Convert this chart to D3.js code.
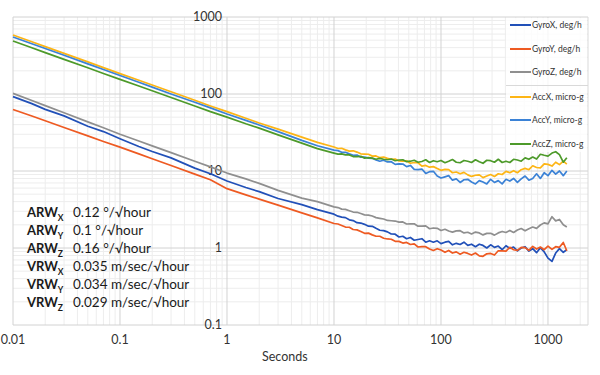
<!DOCTYPE html>
<html>
<head>
<meta charset="utf-8">
<script src="https://cdn.jsdelivr.net/npm/d3@7"></script>
<style>
body { margin: 0; background: #fff; }
text { font-family: Lato, "Open Sans", sans-serif; }
</style>
</head>
<body>
<div id="wrapper"></div>
<script>
/* data */
const seconds = [0.01, 0.015, 0.02, 0.03, 0.05, 0.07, 0.1, 0.15, 0.2, 0.3, 0.5, 0.7, 1, 1.5, 2, 3, 5, 7,
  10, 10.9, 11.8, 12.8, 13.9, 15.1, 16.4, 17.8, 19.3, 21, 22.8, 24.7, 26.8, 29.1, 31.6, 34.3, 37.3, 40.5,
  44, 47.7, 51.8, 56.2, 61, 66.3, 72, 78.2, 84.9, 92.2, 100, 109, 118, 128, 139, 151, 164, 178, 193, 210,
  228, 247, 268, 291, 316, 343, 373, 405, 440, 477, 518, 562, 611, 663, 720, 782, 849, 922, 1000, 1090,
  1180, 1280, 1390, 1500];

const gyroX = [92.5, 75, 63.2, 52, 38.2, 32.5, 26.2, 20.8, 17.9, 14.8, 10.9, 9.2, 7.4, 6.1, 5.4, 4.4, 3.66, 3.15,
  2.75, 2.59, 2.52, 2.48, 2.32, 2.27, 2.13, 2.11, 2.03, 1.92, 1.91, 1.80, 1.70, 1.68, 1.62, 1.52, 1.51, 1.39,
  1.42, 1.32, 1.37, 1.26, 1.29, 1.32, 1.19, 1.24, 1.19, 1.24, 1.14, 1.19, 1.22, 1.10, 1.15, 1.11, 1.19, 1.08, 1.12, 1.04,
  1.12, 1.08, 1.00, 1.10, 1.02, 1.06, 0.95, 1.07, 0.99, 1.03, 0.92, 1.00, 1.04, 0.91, 0.98, 0.87, 1.01, 0.89, 0.74, 0.67,
  0.86, 0.98, 0.88, 0.95];

const gyroY = [63, 51.8, 44.9, 36.8, 28.6, 24.2, 20.4, 16.7, 14.4, 11.8, 9.1, 7.7, 5.9, 4.9, 4.31, 3.6, 2.86, 2.46,
  2.08, 2.05, 1.96, 1.87, 1.86, 1.74, 1.72, 1.64, 1.55, 1.56, 1.48, 1.42, 1.42, 1.34, 1.31, 1.30, 1.22, 1.22,
  1.16, 1.18, 1.11, 1.13, 1.03, 1.04, 1.04, 0.97, 0.93, 0.98, 0.94, 0.88, 0.93, 0.86, 0.89, 0.83, 0.88, 0.85, 0.81, 0.86,
  0.79, 0.78, 0.84, 0.85, 0.81, 0.92, 0.92, 0.91, 1.02, 0.95, 0.93, 1.02, 1.01, 0.93, 1.05, 0.97, 1.03, 0.95, 1.06, 0.96,
  1.04, 1.02, 1.18, 0.92];

const gyroZ = [102, 82.2, 70.7, 57, 43.5, 36.4, 30, 24.5, 21.2, 17.3, 13.4, 11.3, 9.4, 7.9, 6.9, 5.6, 4.45, 4.0,
  3.42, 3.35, 3.20, 3.17, 3.05, 2.93, 2.91, 2.80, 2.69, 2.67, 2.60, 2.48, 2.43, 2.38, 2.28, 2.26, 2.24, 2.17,
  2.18, 2.05, 2.06, 2.06, 1.92, 1.92, 1.94, 1.78, 1.82, 1.80, 1.69, 1.75, 1.66, 1.61, 1.67, 1.68, 1.57, 1.60, 1.52, 1.61,
  1.57, 1.48, 1.55, 1.55, 1.47, 1.57, 1.64, 1.59, 1.69, 1.59, 1.71, 1.79, 1.67, 1.78, 1.87, 1.80, 1.99, 2.12, 2.06, 2.55,
  2.25, 2.35, 2.00, 1.87];

const accX = [583, 476, 412, 337, 261, 220, 184, 151, 131, 107, 83, 70, 59, 48.5, 42, 35, 27.5, 23.5,
  20.5, 19.6, 19.7, 18.8, 18.1, 18.3, 17.6, 16.7, 16.6, 16.5, 15.6, 15.7, 14.9, 15.2, 14.6, 14.2, 14.3, 13.5,
  13.4, 13.6, 12.6, 12.9, 12.8, 11.6, 11.8, 11.2, 11.4, 10.8, 10.2, 10.5, 10.4, 9.5, 9.7, 9.2, 9.6, 8.9, 8.5, 8.8,
  8.9, 8.2, 8.6, 9.0, 8.5, 9.2, 9.0, 9.9, 9.5, 10.1, 9.5, 10.4, 10.8, 10.4, 11.7, 11.1, 11.0, 12.4, 12.2, 11.6,
  13.0, 12.1, 13.4, 12.3];

const accY = [550, 449, 389, 318, 246, 208, 174, 142, 123, 100, 78, 66, 55, 45.5, 39.5, 32.5, 25, 21.3,
  18.7, 18.4, 17.5, 17.5, 16.7, 16.0, 16.1, 15.1, 15.2, 14.7, 14.6, 13.9, 13.4, 13.8, 13.1, 13.2, 12.2, 12.4,
  12.3, 11.4, 11.8, 10.5, 10.4, 10.6, 9.3, 9.8, 9.9, 8.6, 8.1, 8.4, 8.7, 7.6, 7.9, 7.1, 7.7, 7.8, 7.2, 6.8,
  7.5, 7.2, 6.8, 7.8, 7.1, 7.5, 6.8, 7.8, 7.4, 8.0, 7.1, 7.9, 8.6, 7.6, 8.0, 9.2, 8.0, 9.5, 8.7, 10.2,
  9.1, 10.0, 8.7, 10.0];

const accZ = [488, 398, 345, 282, 219, 185, 155, 127, 110, 90, 70, 59, 50, 41, 36, 29.5, 23, 19.5,
  17.1, 16.6, 16.7, 16.2, 16.2, 15.4, 15.4, 15.5, 14.7, 14.9, 14.7, 14.2, 14.6, 14.2, 14.0, 14.3, 13.6, 13.9,
  14.0, 13.2, 13.4, 13.8, 13.0, 13.3, 14.0, 12.9, 13.6, 13.2, 13.7, 12.8, 13.4, 14.1, 13.0, 12.8, 13.7, 13.4, 12.9, 14.0,
  13.2, 12.6, 13.8, 13.6, 13.0, 14.2, 12.9, 13.4, 12.9, 14.2, 13.9, 13.4, 14.8, 14.2, 15.2, 14.3, 16.5, 16.0, 15.6, 17.1,
  17.8, 16.3, 13.0, 14.9];

const seriesNames = ["GyroX, deg/h", "GyroY, deg/h", "GyroZ, deg/h", "AccX, micro-g", "AccY, micro-g", "AccZ, micro-g"];
const seriesValues = [gyroX, gyroY, gyroZ, accX, accY, accZ];

const xTicks = [0.01, 0.1, 1, 10, 100, 1000];
const xTickLabels = ["0.01", "0.1", "1", "10", "100", "1000"];
const yTicks = [0.1, 1, 10, 100, 1000];
const yTickLabels = ["0.1", "1", "10", "100", "1000"];
const xTitle = "Seconds";

const noteNames = ["ARW", "ARW", "ARW", "VRW", "VRW", "VRW"];
const noteAxes = ["X", "Y", "Z", "X", "Y", "Z"];
const noteValues = ["0.12 °/√hour", "0.1 °/√hour", "0.16 °/√hour",
  "0.035 m/sec/√hour", "0.034 m/sec/√hour", "0.029 m/sec/√hour"];

/* drawing */
const colors = ["#2150b8", "#ee5a22", "#8f8f8f", "#fdb515", "#3b82d6", "#4d9a2a"];

const dimensions = { width: 600, height: 375, left: 13, right: 588, top: 17, bottom: 325 };

const svg = d3.select("#wrapper").append("svg")
  .attr("width", dimensions.width)
  .attr("height", dimensions.height)
  .style("display", "block");

svg.append("rect").attr("width", dimensions.width).attr("height", dimensions.height).attr("fill", "#fff");

const xScale = d3.scaleLog()
  .domain([0.01, 2366])
  .range([dimensions.left, dimensions.right]);
const yScale = d3.scaleLog()
  .domain([0.1, 1000])
  .range([dimensions.bottom, dimensions.top]);

// grid
const grid = svg.append("g");
const minorX = [], minorY = [];
for (let k = -2; k <= 3; k++) {
  for (let m = 2; m <= 9; m++) {
    const v = m * Math.pow(10, k);
    if (v < xScale.domain()[1]) minorX.push(v);
    if (k >= -1 && k <= 2) minorY.push(v);
  }
}
grid.selectAll(".mx").data(minorX).join("line")
  .attr("x1", d => xScale(d)).attr("x2", d => xScale(d))
  .attr("y1", dimensions.top).attr("y2", dimensions.bottom)
  .attr("stroke", "#ededed");
grid.selectAll(".my").data(minorY).join("line")
  .attr("x1", dimensions.left).attr("x2", dimensions.right)
  .attr("y1", d => yScale(d)).attr("y2", d => yScale(d))
  .attr("stroke", "#ededed");
grid.append("g").selectAll("line").data(xTicks).join("line")
  .attr("x1", d => xScale(d)).attr("x2", d => xScale(d))
  .attr("y1", dimensions.top).attr("y2", dimensions.bottom)
  .attr("stroke", "#d2d2d2");
grid.append("g").selectAll("line").data(yTicks).join("line")
  .attr("x1", dimensions.left).attr("x2", dimensions.right)
  .attr("y1", d => yScale(d)).attr("y2", d => yScale(d))
  .attr("stroke", "#d2d2d2");
grid.append("line")
  .attr("x1", dimensions.right).attr("x2", dimensions.right)
  .attr("y1", dimensions.top).attr("y2", dimensions.bottom)
  .attr("stroke", "#d9d9d9");

// legend background
svg.append("rect")
  .attr("x", 506).attr("y", dimensions.top + 1)
  .attr("width", dimensions.right - 507).attr("height", 134)
  .attr("fill", "#fff").attr("opacity", 0.8);
svg.append("line")
  .attr("x1", 506).attr("x2", dimensions.right)
  .attr("y1", 85.5).attr("y2", 85.5)
  .attr("stroke", "#d9d9d9");

// tick labels
svg.append("g").selectAll("text").data(yTicks).join("text")
  .attr("x", xScale(1) - 5)
  .attr("y", d => yScale(d))
  .attr("dy", "0.35em")
  .attr("text-anchor", "end")
  .attr("font-size", 12.5)
  .attr("fill", "#333")
  .text((d, i) => yTickLabels[i]);
svg.append("g").selectAll("text").data(xTicks).join("text")
  .attr("x", d => xScale(d))
  .attr("y", dimensions.bottom + 19)
  .attr("text-anchor", "middle")
  .attr("font-size", 12.5)
  .attr("fill", "#333")
  .text((d, i) => xTickLabels[i]);
svg.append("text")
  .attr("x", 262).attr("y", 361)
  .attr("font-size", 12.5)
  .attr("fill", "#333")
  .text(xTitle);

// series
const line = d3.line()
  .x((d, i) => xScale(seconds[i]))
  .y(d => yScale(d));
svg.append("g").selectAll("path").data(seriesValues).join("path")
  .attr("d", d => line(d))
  .attr("fill", "none")
  .attr("stroke", (d, i) => colors[i])
  .attr("stroke-width", 1.7)
  .attr("stroke-linejoin", "round");

// legend
const legendY = [25, 49, 72, 97, 120, 144];
const legend = svg.append("g").selectAll("g").data(seriesNames).join("g")
  .attr("transform", (d, i) => `translate(510,${legendY[i]})`);
legend.append("line")
  .attr("x1", 0).attr("x2", 21)
  .attr("stroke", (d, i) => colors[i])
  .attr("stroke-width", 2);
legend.append("text")
  .attr("x", 22).attr("dy", "0.35em")
  .attr("font-size", 8.5)
  .attr("fill", "#333")
  .text(d => d);

// note block
const notes = svg.append("g").selectAll("g").data(noteNames).join("g")
  .attr("transform", (d, i) => `translate(27,${217 + i * 17.9})`);
const noteText = notes.append("text")
  .attr("font-size", 13)
  .attr("fill", "#1a1a1a");
noteText.append("tspan").attr("font-weight", "bold").text(d => d);
noteText.append("tspan").attr("font-weight", "bold").attr("font-size", 8.5)
  .attr("dy", 4).text((d, i) => noteAxes[i]);
notes.append("text")
  .attr("x", 46)
  .attr("font-size", 13.5)
  .attr("fill", "#1a1a1a")
  .text((d, i) => noteValues[i]);
</script>
</body>
</html>
